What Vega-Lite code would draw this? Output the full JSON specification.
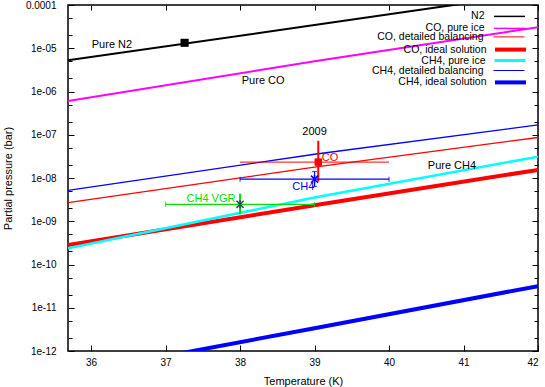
{
  "$schema": "https://vega.github.io/schema/vega-lite/v6.json",
  "width": 470,
  "height": 346,
  "autosize": {"type": "none"},
  "padding": {"left": 68, "top": 5, "right": 7, "bottom": 36},
  "config": {
    "font": "Liberation Sans",
    "view": {"stroke": "black", "strokeWidth": 1.5},
    "axis": {
      "domain": false,
      "grid": false,
      "tickColor": "black",
      "tickWidth": 1,
      "labelColor": "black",
      "titleColor": "black",
      "labelFontSize": 10,
      "titleFontSize": 11,
      "titleFontWeight": "normal",
      "labelFont": "Liberation Sans",
      "titleFont": "Liberation Sans"
    },
    "legend": {
      "labelFont": "Liberation Sans", "orient": "none", "legendX": 435.5, "title": null,
      "symbolType": "M-3.1,0H3.1", "symbolSize": 100,
      "labelAlign": "right", "labelOffset": -31, "labelFontSize": 10.5,
      "labelColor": "black", "labelLimit": 300, "rowPadding": 0, "padding": 0
    }
  },
  "datasets": {
    "curves": [
      {"series": "N2", "T": 35.69, "P": 5.26e-6},
      {"series": "N2", "T": 39.0, "P": 3.44e-5},
      {"series": "N2", "T": 40.7, "P": 9.14e-5},
      {"series": "N2", "T": 42.0, "P": 1.86e-4},
      {"series": "CO, pure ice", "T": 35.69, "P": 6.03e-7},
      {"series": "CO, pure ice", "T": 39.0, "P": 4.98e-6},
      {"series": "CO, pure ice", "T": 42.0, "P": 3.06e-5},
      {"series": "CO, detailed balancing", "T": 35.69, "P": 2.69e-9},
      {"series": "CO, detailed balancing", "T": 39.0, "P": 1.78e-8},
      {"series": "CO, detailed balancing", "T": 42.0, "P": 8.65e-8},
      {"series": "CO, ideal solution", "T": 35.69, "P": 2.82e-10},
      {"series": "CO, ideal solution", "T": 39.0, "P": 2.35e-9},
      {"series": "CO, ideal solution", "T": 42.0, "P": 1.54e-8},
      {"series": "CH4, pure ice", "T": 35.69, "P": 2.37e-10},
      {"series": "CH4, pure ice", "T": 39.0, "P": 3.53e-9},
      {"series": "CH4, pure ice", "T": 42.0, "P": 3.12e-8},
      {"series": "CH4, detailed balancing", "T": 35.69, "P": 5.16e-9},
      {"series": "CH4, detailed balancing", "T": 39.0, "P": 3.54e-8},
      {"series": "CH4, detailed balancing", "T": 42.0, "P": 1.69e-7},
      {"series": "CH4, ideal solution", "T": 35.69, "P": 2.85e-13},
      {"series": "CH4, ideal solution", "T": 37.37, "P": 1.0e-12},
      {"series": "CH4, ideal solution", "T": 39.0, "P": 3.37e-12},
      {"series": "CH4, ideal solution", "T": 42.0, "P": 3.16e-11}
    ],
    "pureN2": [{"name": "Pure N2", "T": 37.255, "P": 1.34e-5}],
    "obs": [
      {"name": "CO", "T": 39.05, "P": 2.33e-8, "Tlo": 38.0, "Thi": 40.0, "Plo": 8.3e-9, "Phi": 7.26e-8},
      {"name": "CH4", "T": 39.0, "P": 9.4e-9, "Tlo": 38.0, "Thi": 40.0, "Plo": 6.4e-9, "Phi": 1.41e-8},
      {"name": "CH4 VGR", "T": 38.0, "P": 2.46e-9, "Tlo": 37.0, "Thi": 39.0, "Plo": 1.45e-9, "Phi": 4.34e-9}
    ],
    "labels": [
      {"text": "Pure N2", "T": 36.28, "P": 1.21e-5},
      {"text": "Pure CO", "T": 38.31, "P": 1.73e-6},
      {"text": "Pure CH4", "T": 40.845, "P": 1.87e-8},
      {"text": "2009", "T": 39.0, "P": 1.17e-7},
      {"text": "CO", "T": 39.208, "P": 2.96e-8},
      {"text": "CH4", "T": 38.85, "P": 6.05e-9},
      {"text": "CH4 VGR", "T": 37.61, "P": 3.33e-9}
    ]
  },
  "resolve": {
    "axis": {"x": "independent", "y": "independent"},
    "scale": {"color": "independent"}
  },
  "layer": [
    {
      "data": {"name": "curves"},
      "transform": [{"filter": "datum.series == 'N2' || datum.series == 'CO, pure ice'"}],
      "mark": {"type": "line", "clip": true, "strokeWidth": 2},
      "encoding": {
        "x": {
          "field": "T", "type": "quantitative",
          "scale": {"domain": [35.69, 42], "nice": false, "zero": false},
          "axis": {"orient": "bottom", "values": [36, 37, 38, 39, 40, 41, 42], "title": "Temperature (K)", "tickSize": -6, "labelPadding": 12, "titlePadding": 8}
        },
        "y": {
          "field": "P", "type": "quantitative",
          "scale": {"type": "log", "domain": [1e-12, 1e-4], "nice": false},
          "axis": {
            "orient": "left",
            "values": [1e-12, 1e-11, 1e-10, 1e-9, 1e-8, 1e-7, 1e-6, 1e-5, 1e-4],
            "labelExpr": "datum.value > 5e-5 ? '0.0001' : '1e-' + (round(-log(datum.value)/LN10) < 10 ? '0' : '') + round(-log(datum.value)/LN10)",
            "title": "Partial pressure (bar)",
            "tickSize": -6, "labelPadding": 18, "titlePadding": 12
          }
        },
        "color": {
          "field": "series", "type": "nominal", "sort": null,
          "scale": {"domain": ["N2", "CO, pure ice"], "range": ["#000000", "#ff00ff"]},
          "legend": {"legendY": 5.4, "symbolStrokeWidth": 1.5}
        }
      }
    },
    {
      "data": {"name": "curves"},
      "transform": [{"filter": "datum.series == 'CO, detailed balancing'"}],
      "mark": {"type": "line", "clip": true, "strokeWidth": 1.3},
      "encoding": {
        "x": {"field": "T", "type": "quantitative", "axis": null},
        "y": {"field": "P", "type": "quantitative", "axis": null},
        "color": {
          "field": "series", "type": "nominal",
          "scale": {"domain": ["CO, detailed balancing"], "range": ["#ff0000"]},
          "legend": {"legendY": 26.4, "symbolStrokeWidth": 1}
        }
      }
    },
    {
      "data": {"name": "curves"},
      "transform": [{"filter": "datum.series == 'CO, ideal solution'"}],
      "mark": {"type": "line", "clip": true, "strokeWidth": 4},
      "encoding": {
        "x": {"field": "T", "type": "quantitative", "axis": null},
        "y": {"field": "P", "type": "quantitative", "axis": null},
        "color": {
          "field": "series", "type": "nominal",
          "scale": {"domain": ["CO, ideal solution"], "range": ["#ff0000"]},
          "legend": {"legendY": 37.6, "symbolStrokeWidth": 4}
        }
      }
    },
    {
      "data": {"name": "curves"},
      "transform": [{"filter": "datum.series == 'CH4, pure ice'"}],
      "mark": {"type": "line", "clip": true, "strokeWidth": 2.5},
      "encoding": {
        "x": {"field": "T", "type": "quantitative", "axis": null},
        "y": {"field": "P", "type": "quantitative", "axis": null},
        "color": {
          "field": "series", "type": "nominal",
          "scale": {"domain": ["CH4, pure ice"], "range": ["#00ffff"]},
          "legend": {"legendY": 49.0, "symbolStrokeWidth": 3}
        }
      }
    },
    {
      "data": {"name": "curves"},
      "transform": [{"filter": "datum.series == 'CH4, detailed balancing'"}],
      "mark": {"type": "line", "clip": true, "strokeWidth": 1.3},
      "encoding": {
        "x": {"field": "T", "type": "quantitative", "axis": null},
        "y": {"field": "P", "type": "quantitative", "axis": null},
        "color": {
          "field": "series", "type": "nominal",
          "scale": {"domain": ["CH4, detailed balancing"], "range": ["#0000ff"]},
          "legend": {"legendY": 60.0, "symbolStrokeWidth": 1}
        }
      }
    },
    {
      "data": {"name": "curves"},
      "transform": [{"filter": "datum.series == 'CH4, ideal solution'"}],
      "mark": {"type": "line", "clip": true, "strokeWidth": 4},
      "encoding": {
        "x": {"field": "T", "type": "quantitative", "axis": null},
        "y": {"field": "P", "type": "quantitative", "axis": null},
        "color": {
          "field": "series", "type": "nominal",
          "scale": {"domain": ["CH4, ideal solution"], "range": ["#0000ff"]},
          "legend": {"legendY": 70.4, "symbolStrokeWidth": 4}
        }
      }
    },
    {
      "data": {"name": "pureN2"},
      "mark": {"type": "point", "shape": "square", "filled": true, "color": "black", "size": 60, "opacity": 1},
      "encoding": {
        "x": {"field": "T", "type": "quantitative",
          "axis": {"orient": "top", "values": [36, 37, 38, 39, 40, 41, 42], "labels": false, "title": null, "tickSize": -5}},
        "y": {"field": "P", "type": "quantitative",
          "axis": {"orient": "right", "values": [1e-12, 1e-11, 1e-10, 1e-9, 1e-8, 1e-7, 1e-6, 1e-5, 1e-4], "labels": false, "title": null, "tickSize": -6}}
      }
    },
    {
      "data": {"name": "obs"},
      "transform": [{"filter": "datum.name == 'CO'"}],
      "layer": [
        {"mark": {"type": "rule", "color": "#ff0000", "strokeWidth": 1},
         "encoding": {"x": {"field": "Tlo", "type": "quantitative", "axis": null}, "x2": {"field": "Thi"}, "y": {"field": "P", "type": "quantitative", "axis": null}}},
        {"mark": {"type": "rule", "color": "#ff0000", "strokeWidth": 2},
         "encoding": {"x": {"field": "T", "type": "quantitative", "axis": null}, "y": {"field": "Plo", "type": "quantitative", "axis": null}, "y2": {"field": "Phi"}}},
        {"mark": {"type": "point", "shape": "square", "filled": true, "color": "#ff0000", "size": 55, "opacity": 1},
         "encoding": {"x": {"field": "T", "type": "quantitative", "axis": null}, "y": {"field": "P", "type": "quantitative", "axis": null}}}
      ]
    },
    {
      "data": {"name": "obs"},
      "transform": [{"filter": "datum.name == 'CH4'"}],
      "layer": [
        {"mark": {"type": "errorbar", "ticks": true, "color": "#0000ff", "thickness": 1.2},
         "encoding": {"x": {"field": "Tlo", "type": "quantitative", "axis": null}, "x2": {"field": "Thi"}, "y": {"field": "P", "type": "quantitative", "axis": null}}},
        {"mark": {"type": "errorbar", "ticks": true, "color": "#0000ff", "thickness": 1.2},
         "encoding": {"x": {"field": "T", "type": "quantitative", "axis": null}, "y": {"field": "Plo", "type": "quantitative", "axis": null}, "y2": {"field": "Phi"}}},
        {"mark": {"type": "point", "shape": "M-1,-1L1,1M-1,1L1,-1M0,-1.2L0,1.2", "filled": false, "color": "#0000ff", "size": 50, "strokeWidth": 1.5, "opacity": 1},
         "encoding": {"x": {"field": "T", "type": "quantitative", "axis": null}, "y": {"field": "P", "type": "quantitative", "axis": null}}}
      ]
    },
    {
      "data": {"name": "obs"},
      "transform": [{"filter": "datum.name == 'CH4 VGR'"}],
      "layer": [
        {"mark": {"type": "errorbar", "ticks": true, "color": "#00e000", "thickness": 1.2},
         "encoding": {"x": {"field": "Tlo", "type": "quantitative", "axis": null}, "x2": {"field": "Thi"}, "y": {"field": "P", "type": "quantitative", "axis": null}}},
        {"mark": {"type": "errorbar", "ticks": false, "color": "#00e000", "thickness": 2},
         "encoding": {"x": {"field": "T", "type": "quantitative", "axis": null}, "y": {"field": "Plo", "type": "quantitative", "axis": null}, "y2": {"field": "Phi"}}},
        {"mark": {"type": "point", "shape": "M-1,-1L1,1M-1,1L1,-1M0,-1.2L0,1.2", "filled": false, "color": "#1f4f4f", "size": 50, "strokeWidth": 1.5, "opacity": 1},
         "encoding": {"x": {"field": "T", "type": "quantitative", "axis": null}, "y": {"field": "P", "type": "quantitative", "axis": null}}}
      ]
    },
    {
      "data": {"name": "labels"},
      "mark": {"type": "text", "fontSize": 11, "align": "center", "baseline": "middle", "font": "Liberation Sans"},
      "encoding": {
        "x": {"field": "T", "type": "quantitative", "axis": null},
        "y": {"field": "P", "type": "quantitative",
          "axis": {"orient": "left", "values": [2e-12, 5e-12, 2e-11, 5e-11, 2e-10, 5e-10, 2e-9, 5e-9, 2e-8, 5e-8, 2e-7, 5e-7, 2e-6, 5e-6, 2e-5, 5e-5], "labels": false, "title": null, "tickSize": -4}},
        "text": {"field": "text"},
        "color": {
          "field": "text", "type": "nominal",
          "scale": {"domain": ["Pure N2", "Pure CO", "Pure CH4", "2009", "CO", "CH4", "CH4 VGR"], "range": ["#000000", "#000000", "#000000", "#000000", "#ff0000", "#0000ff", "#00e000"]},
          "legend": null
        }
      }
    },
    {
      "data": {"name": "pureN2"},
      "mark": {"type": "point", "shape": "square", "filled": true, "color": "black", "size": 60, "opacity": 1},
      "encoding": {
        "x": {"field": "T", "type": "quantitative", "axis": null},
        "y": {"field": "P", "type": "quantitative",
          "axis": {"orient": "right", "values": [2e-12, 5e-12, 2e-11, 5e-11, 2e-10, 5e-10, 2e-9, 5e-9, 2e-8, 5e-8, 2e-7, 5e-7, 2e-6, 5e-6, 2e-5, 5e-5], "labels": false, "title": null, "tickSize": -4}}
      }
    }
  ]
}
